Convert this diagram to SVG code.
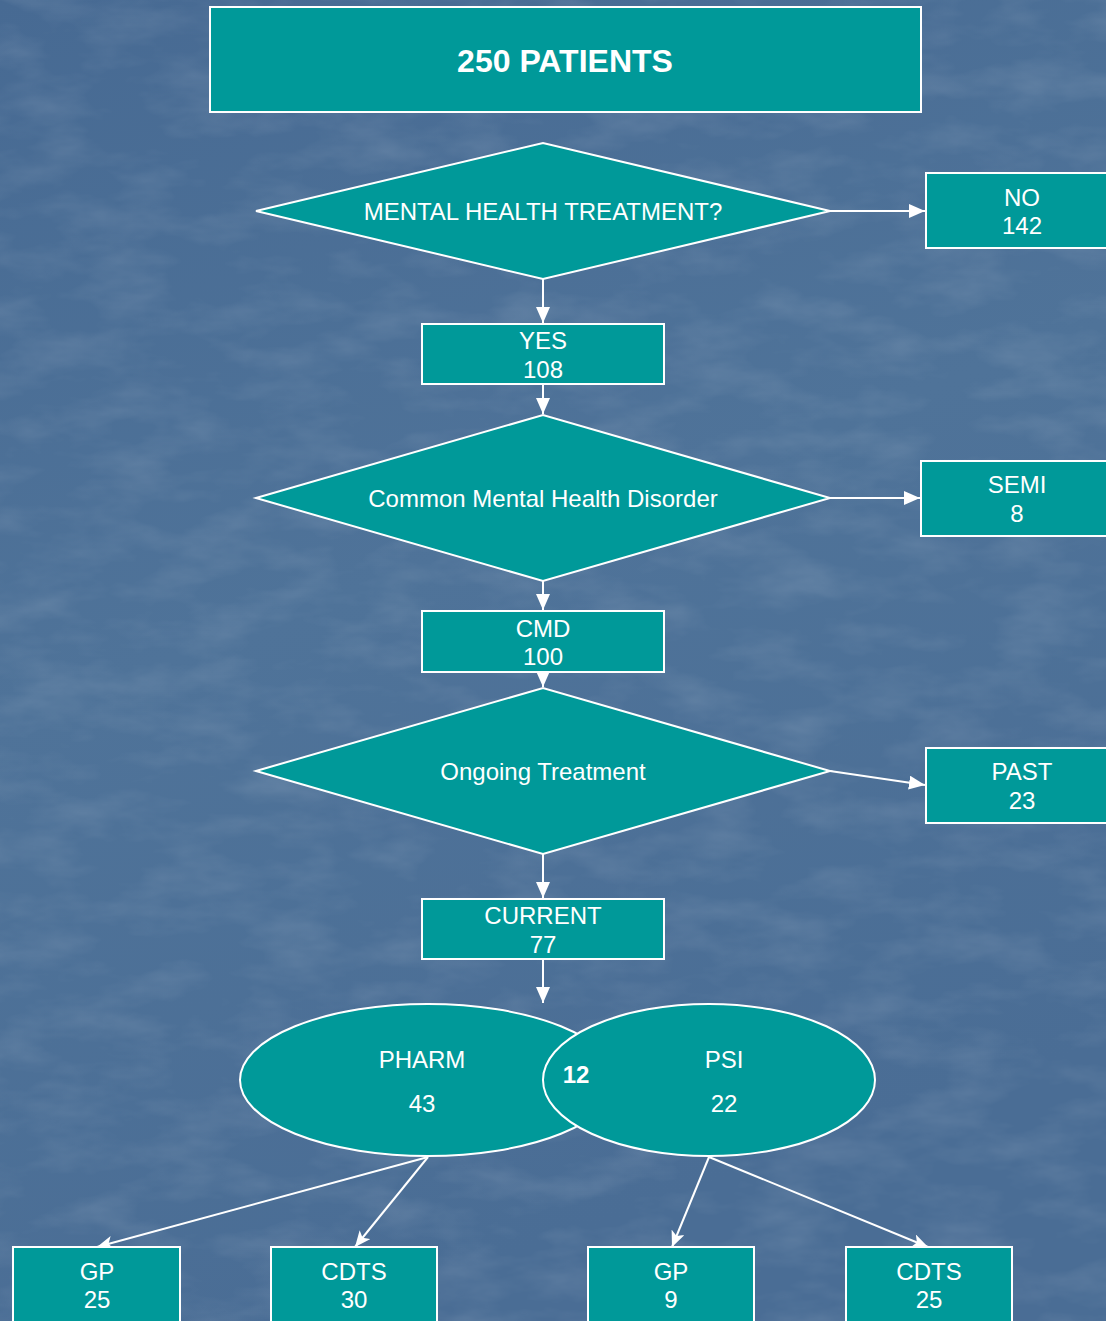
<svg xmlns="http://www.w3.org/2000/svg" width="1106" height="1321" viewBox="0 0 1106 1321">
  <defs>
    <linearGradient id="bg" x1="0" y1="0" x2="0.3" y2="1">
      <stop offset="0" stop-color="#476a93"/>
      <stop offset="0.5" stop-color="#4f7399"/>
      <stop offset="1" stop-color="#4a6d95"/>
    </linearGradient>
    <filter id="grain" x="0" y="0" width="100%" height="100%">
      <feTurbulence type="fractalNoise" baseFrequency="0.012 0.03" numOctaves="4" seed="7" result="n"/>
      <feColorMatrix in="n" type="matrix" values="0 0 0 0 1  0 0 0 0 1  0 0 0 0 1  0 0 0 1.1 -0.45" />
    </filter>
    <marker id="arr" viewBox="0 0 16 14" refX="16" refY="7" markerWidth="16" markerHeight="14" markerUnits="userSpaceOnUse" orient="auto">
      <path d="M0,0 L16,7 L0,14 Z" fill="#ffffff"/>
    </marker>
    <marker id="barb" viewBox="0 0 16 14" refX="16" refY="7" markerWidth="16" markerHeight="14" markerUnits="userSpaceOnUse" orient="auto">
      <path d="M0,0 L16,7 L0,14 L4,7 Z" fill="#ffffff"/>
    </marker>
    <style>
      .box { fill: #009999; stroke: #ffffff; stroke-width: 2; }
      .lbl { font-family: "Liberation Sans", Arial, sans-serif; font-size: 24px; fill: #ffffff; text-anchor: middle; }
      .title { font-family: "Liberation Sans", Arial, sans-serif; font-size: 32px; font-weight: bold; fill: #ffffff; text-anchor: middle; }
      .edge { stroke: #ffffff; stroke-width: 2; fill: none; marker-end: url(#arr); }
      .edge2 { stroke: #ffffff; stroke-width: 2; fill: none; marker-end: url(#barb); }
    </style>
  </defs>

  <!-- backdrop -->
  <rect x="0" y="0" width="1106" height="1321" fill="url(#bg)"/>
  <rect x="0" y="0" width="1106" height="1321" filter="url(#grain)" opacity="0.18"/>

  <!-- connectors -->
  <g id="connectors">
    <line class="edge" x1="830" y1="211" x2="925" y2="211"/>
    <line class="edge" x1="543" y1="279" x2="543" y2="323"/>
    <line class="edge" x1="543" y1="384" x2="543" y2="414"/>
    <line class="edge" x1="830" y1="498" x2="920" y2="498"/>
    <line class="edge" x1="543" y1="581" x2="543" y2="610"/>
    <line class="edge" x1="543" y1="672" x2="543" y2="687"/>
    <line class="edge" x1="830" y1="771" x2="925" y2="785"/>
    <line class="edge" x1="543" y1="854" x2="543" y2="898"/>
    <line class="edge" x1="543" y1="959" x2="543" y2="1003"/>
    <line class="edge2" x1="428" y1="1157" x2="97" y2="1247"/>
    <line class="edge2" x1="428" y1="1157" x2="355" y2="1247"/>
    <line class="edge2" x1="709" y1="1157" x2="672" y2="1247"/>
    <line class="edge2" x1="709" y1="1157" x2="928" y2="1247"/>
  </g>

  <g id="patients">
    <rect class="box" x="210" y="7" width="711" height="105"/>
    <text class="title" x="565" y="72">250 PATIENTS</text>
  </g>

  <g id="q-treatment">
    <polygon class="box" points="256,211 543,143 830,211 543,279"/>
    <text class="lbl" x="543" y="220">MENTAL HEALTH TREATMENT?</text>
  </g>

  <g id="no">
    <rect class="box" x="926" y="173" width="190" height="75"/>
    <text class="lbl" x="1022" y="206">NO</text>
    <text class="lbl" x="1022" y="234">142</text>
  </g>

  <g id="yes">
    <rect class="box" x="422" y="324" width="242" height="60"/>
    <text class="lbl" x="543" y="349">YES</text>
    <text class="lbl" x="543" y="378">108</text>
  </g>

  <g id="q-cmd">
    <polygon class="box" points="256,498 543,415 830,498 543,581"/>
    <text class="lbl" x="543" y="507">Common Mental Health Disorder</text>
  </g>

  <g id="semi">
    <rect class="box" x="921" y="461" width="195" height="75"/>
    <text class="lbl" x="1017" y="493">SEMI</text>
    <text class="lbl" x="1017" y="522">8</text>
  </g>

  <g id="cmd">
    <rect class="box" x="422" y="611" width="242" height="61"/>
    <text class="lbl" x="543" y="637">CMD</text>
    <text class="lbl" x="543" y="665">100</text>
  </g>

  <g id="q-ongoing">
    <polygon class="box" points="256,771 543,688 830,771 543,854"/>
    <text class="lbl" x="543" y="780">Ongoing Treatment</text>
  </g>

  <g id="past">
    <rect class="box" x="926" y="748" width="190" height="75"/>
    <text class="lbl" x="1022" y="780">PAST</text>
    <text class="lbl" x="1022" y="809">23</text>
  </g>

  <g id="current">
    <rect class="box" x="422" y="899" width="242" height="60"/>
    <text class="lbl" x="543" y="924">CURRENT</text>
    <text class="lbl" x="543" y="953">77</text>
  </g>

  <g id="pharm">
    <ellipse class="box" cx="428" cy="1080" rx="188" ry="76"/>
    <text class="lbl" x="422" y="1068">PHARM</text>
    <text class="lbl" x="422" y="1112">43</text>
  </g>

  <g id="psi">
    <ellipse class="box" cx="709" cy="1080" rx="166" ry="76"/>
    <text class="lbl" x="724" y="1068">PSI</text>
    <text class="lbl" x="724" y="1112">22</text>
    <text class="lbl" x="576" y="1083" style="font-weight:bold">12</text>
  </g>

  <g id="gp-pharm">
    <rect class="box" x="13" y="1247" width="167" height="90"/>
    <text class="lbl" x="97" y="1280">GP</text>
    <text class="lbl" x="97" y="1308">25</text>
  </g>

  <g id="cdts-pharm">
    <rect class="box" x="271" y="1247" width="166" height="90"/>
    <text class="lbl" x="354" y="1280">CDTS</text>
    <text class="lbl" x="354" y="1308">30</text>
  </g>

  <g id="gp-psi">
    <rect class="box" x="588" y="1247" width="166" height="90"/>
    <text class="lbl" x="671" y="1280">GP</text>
    <text class="lbl" x="671" y="1308">9</text>
  </g>

  <g id="cdts-psi">
    <rect class="box" x="846" y="1247" width="166" height="90"/>
    <text class="lbl" x="929" y="1280">CDTS</text>
    <text class="lbl" x="929" y="1308">25</text>
  </g>
</svg>
